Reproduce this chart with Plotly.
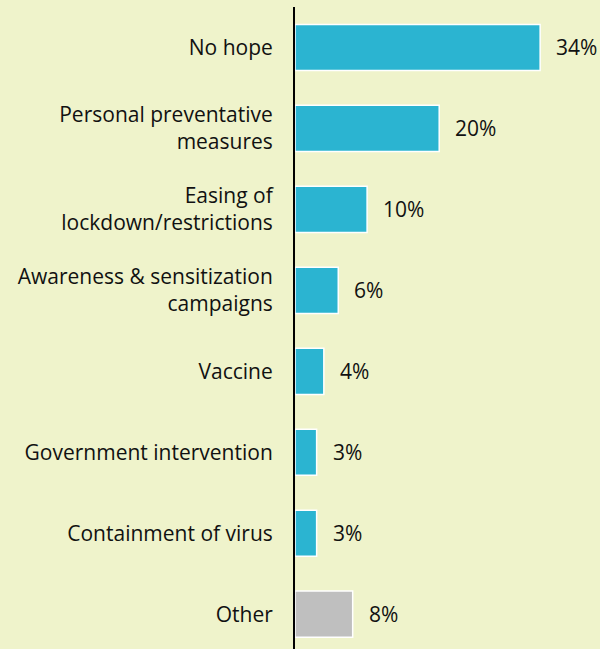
import plotly.graph_objects as go

categories = [
    "No hope",
    "Personal preventative<br>measures",
    "Easing of<br>lockdown/restrictions",
    "Awareness & sensitization<br>campaigns",
    "Vaccine",
    "Government intervention",
    "Containment of virus",
    "Other",
]
values = [34, 20, 10, 6, 4, 3, 3, 8]
labels = ["34%", "20%", "10%", "6%", "4%", "3%", "3%", "8%"]
colors = ["#2BB4D1"] * 7 + ["#BFBFBF"]

bg = "#EFF3CB"
font_family = "'Open Sans', Lato, sans-serif"
fsize = 21

fig = go.Figure(
    go.Bar(
        x=values,
        y=categories,
        orientation="h",
        marker=dict(color=colors, line=dict(color="white", width=1.5)),
        width=0.57,
        hoverinfo="skip",
    )
)

for v, c, t in zip(values, categories, labels):
    fig.add_annotation(
        x=v, y=c, text=t, showarrow=False,
        xanchor="left", yanchor="middle", xshift=14,
        font=dict(size=fsize, color="#111111", family=font_family),
    )

fig.update_layout(
    width=600,
    height=649,
    margin=dict(l=295, r=0, t=7, b=0),
    paper_bgcolor=bg,
    plot_bgcolor=bg,
    showlegend=False,
    font=dict(family=font_family, size=fsize, color="#111111"),
)
fig.update_xaxes(
    range=[0, 42.3], visible=False, showgrid=False, zeroline=False,
)
fig.update_yaxes(
    type="category",
    range=[7.43, -0.5],
    showline=True, linecolor="black", linewidth=2,
    showgrid=False, zeroline=False,
    ticks="", ticklabelstandoff=16,
    tickfont=dict(size=fsize, family=font_family, color="#111111"),
)

fig.write_html("out.html")
